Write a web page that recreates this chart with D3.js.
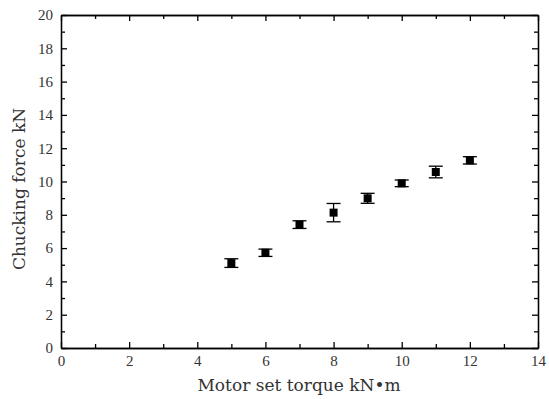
<!DOCTYPE html>
<html>
<head>
<meta charset="utf-8">
<style>
    body { margin: 0; background: #fff; }
    svg { display: block; }
</style>
</head>
<body>
<svg width="549" height="399"></svg>
<script src="https://d3js.org/d3.v7.min.js"></script>
<script>
    // values
    let torque = [5, 6, 7, 8, 9, 10, 11, 12];
    let force = [5.1, 5.72, 7.41, 8.13, 8.99, 9.89, 10.57, 11.27];
    let errs = [0.26, 0.22, 0.23, 0.55, 0.3, 0.2, 0.35, 0.22];
    let xTicks = [0, 2, 4, 6, 8, 10, 12, 14];
    let yTicks = [0, 2, 4, 6, 8, 10, 12, 14, 16, 18, 20];

    let plotL = 61, plotR = 538, plotT = 15, plotB = 348;

    let svg = d3.select("svg");

    let x = d3.scaleLinear().domain([0, 14]).range([plotL, plotR]);
    let y = d3.scaleLinear().domain([0, 20]).range([plotB, plotT]);

    let minorX = d3.range(1, 14, 2);
    let minorY = d3.range(1, 20, 2);

    function styleAxis(g) {
        g.selectAll("path").attr("stroke", "#000").attr("stroke-width", 1.3);
        g.selectAll("line").attr("stroke", "#000").attr("stroke-width", 1.3);
        g.selectAll("text")
            .attr("font-family", "'Liberation Serif', serif")
            .attr("font-size", 15)
            .attr("fill", "#333");
    }

    // bottom axis, ticks point inward
    svg.append("g").attr("transform", `translate(0,${plotB})`)
        .call(d3.axisBottom(x).tickValues(xTicks).tickSize(-6).tickPadding(7).tickSizeOuter(0))
        .call(styleAxis);
    svg.append("g").attr("transform", `translate(0,${plotB})`)
        .call(d3.axisBottom(x).tickValues(minorX).tickSize(-4).tickFormat("").tickSizeOuter(0))
        .call(styleAxis);

    // top axis
    svg.append("g").attr("transform", `translate(0,${plotT})`)
        .call(d3.axisTop(x).tickValues(xTicks).tickSize(-6).tickFormat("").tickSizeOuter(0))
        .call(styleAxis);
    svg.append("g").attr("transform", `translate(0,${plotT})`)
        .call(d3.axisTop(x).tickValues(minorX).tickSize(-4).tickFormat("").tickSizeOuter(0))
        .call(styleAxis);

    // left axis
    svg.append("g").attr("transform", `translate(${plotL},0)`)
        .call(d3.axisLeft(y).tickValues(yTicks).tickSize(-6).tickPadding(8).tickSizeOuter(0))
        .call(styleAxis);
    svg.append("g").attr("transform", `translate(${plotL},0)`)
        .call(d3.axisLeft(y).tickValues(minorY).tickSize(-4).tickFormat("").tickSizeOuter(0))
        .call(styleAxis);

    // right axis
    svg.append("g").attr("transform", `translate(${plotR},0)`)
        .call(d3.axisRight(y).tickValues(yTicks).tickSize(-6).tickFormat("").tickSizeOuter(0))
        .call(styleAxis);
    svg.append("g").attr("transform", `translate(${plotR},0)`)
        .call(d3.axisRight(y).tickValues(minorY).tickSize(-4).tickFormat("").tickSizeOuter(0))
        .call(styleAxis);

    let pts = torque.map((t, i) => ({ t: t, f: force[i], e: errs[i] }));

    let bars = svg.append("g").attr("stroke", "#000").attr("stroke-width", 1.3);
    bars.selectAll(".stem")
        .data(pts)
        .join("line")
        .attr("class", "stem")
        .attr("x1", d => x(d.t)).attr("x2", d => x(d.t))
        .attr("y1", d => y(d.f - d.e)).attr("y2", d => y(d.f + d.e));
    bars.selectAll(".capTop")
        .data(pts)
        .join("line")
        .attr("class", "capTop")
        .attr("x1", d => x(d.t) - 7).attr("x2", d => x(d.t) + 7)
        .attr("y1", d => y(d.f + d.e)).attr("y2", d => y(d.f + d.e));
    bars.selectAll(".capBot")
        .data(pts)
        .join("line")
        .attr("class", "capBot")
        .attr("x1", d => x(d.t) - 7).attr("x2", d => x(d.t) + 7)
        .attr("y1", d => y(d.f - d.e)).attr("y2", d => y(d.f - d.e));

    svg.append("g").selectAll("rect")
        .data(pts)
        .join("rect")
        .attr("x", d => x(d.t) - 4)
        .attr("y", d => y(d.f) - 4)
        .attr("width", 8)
        .attr("height", 8)
        .attr("fill", "#000");

    svg.append("text")
        .attr("x", 299)
        .attr("y", 391)
        .attr("text-anchor", "middle")
        .attr("font-family", "'DejaVu Serif', serif")
        .attr("font-size", 17)
        .attr("fill", "#333")
        .text("Motor set torque kN•m");

    svg.append("text")
        .attr("transform", "translate(25,189) rotate(-90)")
        .attr("text-anchor", "middle")
        .attr("font-family", "'DejaVu Serif', serif")
        .attr("font-size", 17)
        .attr("fill", "#333")
        .text("Chucking force kN");
</script>
</body>
</html>
